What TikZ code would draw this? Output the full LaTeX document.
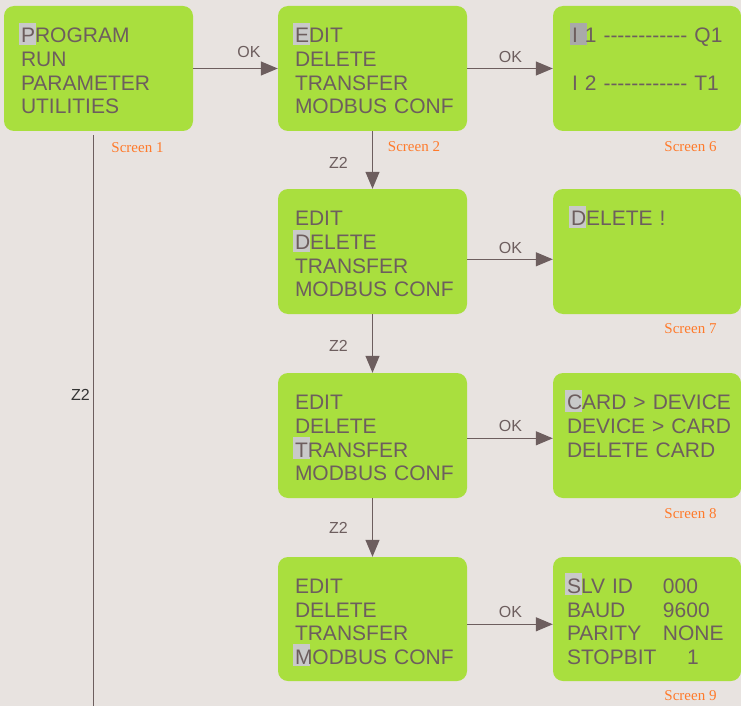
\documentclass[tikz,border=0pt]{standalone}
\usepackage{fontspec}
\newfontfamily\lcdfont{Liberation Sans}
\newfontfamily\scrfont{Liberation Serif}
\usetikzlibrary{arrows.meta}
\definecolor{bgcol}{HTML}{E8E3E0}
\definecolor{scrgreen}{HTML}{A9DF3E}
\definecolor{txtcol}{HTML}{6D5E5E}
\definecolor{hlgray}{HTML}{C9C9C9}
\definecolor{hldark}{HTML}{A9A9A9}
\definecolor{scrorange}{HTML}{FF7A2B}
\definecolor{zdark}{HTML}{333333}
% cursor cell behind the first letter
\newcommand{\hl}[2][hlgray]{\makebox[0pt][l]{\kern-2pt\smash{\textcolor{#1}{\rule[-2pt]{17pt}{22pt}}}}#2}

\begin{document}
\begin{tikzpicture}[x=1pt,y=-1pt,
  screen/.style={fill=scrgreen, rounded corners=10pt, minimum width=189pt, minimum height=125pt,
    inner xsep=17pt, text width=155pt, align=left, text=txtcol,
    font=\lcdfont\fontsize{21}{23.7}\selectfont, execute at begin node=\rule{0pt}{20pt}},
  rscreen/.style={screen, minimum width=188pt, inner xsep=14pt, text width=160pt},
  flow/.style={draw=txtcol, line width=1.2pt, -{Triangle[length=17pt,width=14pt]}},
  oklbl/.style={text=txtcol, font=\lcdfont\fontsize{16}{16}\selectfont, inner sep=0pt},
  scrlbl/.style={text=scrorange, font=\scrfont\fontsize{15}{15}\selectfont, inner sep=0pt}]
\useasboundingbox (0,0) rectangle (741,706);
\fill [bgcol] (0,0) rectangle (741,706);

% menus
\node [screen] (s1) at (98.5,68.5) {\hl{P}ROGRAM\\RUN\\PARAMETER\\UTILITIES};
\node [screen] (s2) at (372.5,68.5) {\hl{E}DIT\\DELETE\\TRANSFER\\\mbox{MODBUS CONF}};
\node [screen] (s3) at (372.5,251.5) {EDIT\\\hl{D}ELETE\\TRANSFER\\\mbox{MODBUS CONF}};
\node [screen] (s4) at (372.5,435.5) {EDIT\\DELETE\\\hl{T}RANSFER\\\mbox{MODBUS CONF}};
\node [screen, minimum height=124pt] (s5) at (372.5,619) {EDIT\\DELETE\\TRANSFER\\\mbox{\hl{M}ODBUS CONF}};

% sub screens
\node [rscreen] (s6) at (647,68.5) {\hspace*{5pt}\hl[hldark]{I} 1 ------------ Q1\\\mbox{}\\\hspace*{5pt}I 2 ------------ T1\\\mbox{}};
\node [rscreen] (s7) at (647,251.5) {\hspace*{4pt}\hl{D}ELETE !\\\mbox{}\\\mbox{}\\\mbox{}};
\node [rscreen] (s8) at (647,435.5) {\mbox{\hl{C}ARD > DEVICE}\\\mbox{DEVICE > CARD}\\DELETE CARD\\\mbox{}};
\node [rscreen, minimum height=124pt] (s9) at (647,619) {\makebox[96pt][l]{\hl{S}LV ID}000\\\makebox[96pt][l]{BAUD}9600\\\makebox[96pt][l]{PARITY}NONE\\\makebox[120pt][l]{STOPBIT}1};

\node [scrlbl] (n1) at (137.5,148) {Screen 1};
\node [scrlbl] (n2) at (414,147) {Screen 2};
\node [scrlbl] (n6) at (690.5,147) {Screen 6};
\node [scrlbl] (n7) at (690.5,329) {Screen 7};
\node [scrlbl] (n8) at (690.5,514) {Screen 8};
\node [scrlbl] (n9) at (690.5,696) {Screen 9};

% OK moves
\draw [flow] (s1) -- (s2);
\draw [flow] (s2) -- (s6);
\draw [flow] ([yshift=-7.8pt]s3.east) -- ([yshift=-7.8pt]s7.west);
\draw [flow] ([yshift=-2.8pt]s4.east) -- ([yshift=-2.8pt]s8.west);
\draw [flow] ([yshift=-5.3pt]s5.east) -- ([yshift=-5.3pt]s9.west);
\node [oklbl] (ok1) at (249,51.5) {OK};
\node [oklbl] (ok2) at (510.5,56.5) {OK};
\node [oklbl] (ok3) at (510.5,247.7) {OK};
\node [oklbl] (ok4) at (510.5,426) {OK};
\node [oklbl] (ok5) at (510.5,611.7) {OK};

% Z2 moves
\draw [flow] (s2) -- (s3);
\draw [flow] (s3) -- (s4);
\draw [flow] (s4) -- (s5);
\node [oklbl] (z1) at (338.5,162.5) {Z2};
\node [oklbl] (z2) at (338.5,346) {Z2};
\node [oklbl] (z3) at (338.5,528) {Z2};

\coordinate (ztop) at (93.3,135);
\coordinate (zbot) at (93.3,706);
\draw [txtcol, line width=1.2pt] (ztop) -- (zbot);
\node [oklbl, text=zdark] (zmain) at (80.5,395) {Z2};
\end{tikzpicture}
\end{document}
